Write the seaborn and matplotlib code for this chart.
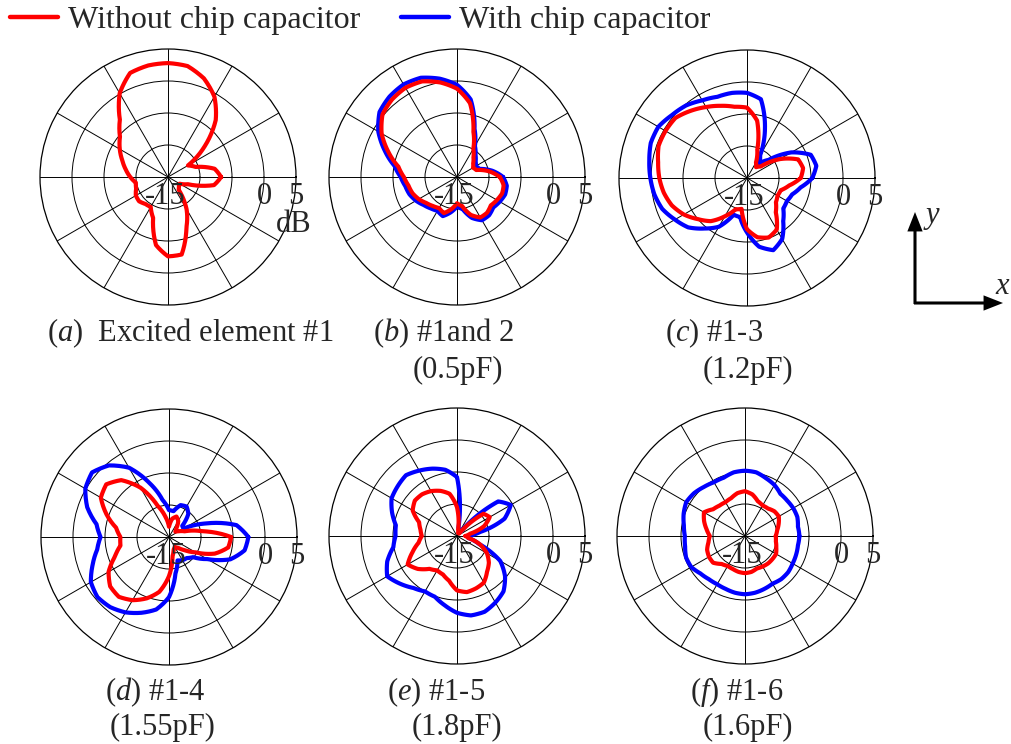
import numpy as np
import pandas as pd
import matplotlib
matplotlib.use("Agg")
import matplotlib.pyplot as plt
from matplotlib.lines import Line2D
from matplotlib.patches import FancyArrowPatch
import seaborn as sns

# ---------------- data (gain in dB, every 10 degrees from 0 to 350) ----------------
angles_deg = list(range(0, 360, 10))

a_without = [-6.7, -7.6, -10.4, -11.4, -7.5, -3.4, -0.5, 1.4, 2.6, 2.8,
             2.7, 2.3, 0.1, -3.3, -5.2, -6.3, -7.4, -8.3, -9.1, -9.9,
             -9.7, -9.2, -9.1, -9.5, -9.6, -8.2, -4.2, -2.6, -2.7, -6.6,
             -9.2, -12.4, -12.8, -12.9, -11.7, -7.7]

b_without = [-8.3, -9.9, -11.8, -12.1, -11.7, -11.0, -9.9, -7.5, -3.3, -1.2,
             0.0, 0.9, 1.1, 0.8, 0.2, -1.4, -3.6, -5.7, -6.7, -7.3,
             -7.6, -8.1, -8.7, -9.1, -9.4, -9.0, -9.9, -10.9, -10.4, -8.7,
             -7.7, -7.7, -8.1, -7.8, -7.5, -7.6]
b_with = [-7.8, -9.4, -11.3, -11.6, -11.2, -10.5, -9.4, -7.0, -2.7, -0.6,
          0.6, 1.5, 1.7, 1.4, 0.8, -0.8, -3.0, -5.1, -6.2, -6.8,
          -7.1, -7.6, -8.2, -8.6, -8.9, -8.5, -9.4, -10.4, -9.9, -8.2,
          -7.2, -7.2, -7.6, -7.3, -7.0, -7.1]

c_without = [-6.6, -6.1, -6.5, -9.1, -12.2, -12.8, -12.2, -10.3, -5.9, -4.0,
             -3.7, -3.0, -2.2, -1.3, -0.4, -0.3, -0.3, -0.9, -1.3, -1.8,
             -2.5, -3.6, -5.0, -6.2, -8.1, -9.8, -10.1, -7.0, -5.6, -5.1,
             -5.7, -8.0, -9.1, -9.5, -9.4, -8.3]
c_with = [-4.8, -4.0, -4.4, -7.0, -10.6, -12.0, -10.9, -6.8, -2.5, -1.7,
          -1.5, -1.5, -1.0, -0.2, 0.3, 1.0, 1.0, 0.5, 0.1, -0.3,
          -0.9, -2.0, -3.0, -4.7, -6.2, -8.9, -8.8, -6.5, -4.1, -3.0,
          -4.0, -6.2, -7.6, -7.8, -7.5, -6.5]

d_without = [-5.3, -9.8, -12.4, -13.2, -13.7, -13.2, -12.1, -11.6, -12.1, -13.4,
             -11.8, -9.8, -6.1, -3.4, -2.2, -2.7, -4.6, -6.6, -7.4, -7.3,
             -6.0, -4.1, -3.0, -2.8, -3.6, -4.8, -6.3, -8.9, -11.9, -12.9,
             -13.2, -12.8, -11.8, -10.2, -7.4, -5.6]
d_with = [-2.6, -4.3, -8.8, -12.4, -12.3, -10.3, -9.5, -9.7, -10.9, -10.8,
          -9.1, -6.0, -2.5, -0.4, 0.7, 0.1, -1.4, -3.5, -4.3, -3.6,
          -2.3, -0.9, -0.4, -0.7, -1.4, -2.4, -3.5, -5.6, -9.2, -11.1,
          -10.8, -10.7, -10.1, -8.1, -4.8, -3.0]

e_without = [-13.7, -12.9, -10.5, -9.1, -9.6, -14.5, -14.5, -14.5, -14.0, -10.5,
             -8.3, -7.5, -6.9, -6.5, -6.4, -7.0, -8.7, -9.2, -9.5, -8.9,
             -7.6, -6.1, -7.0, -8.3, -8.8, -8.6, -7.9, -6.5, -6.1, -6.3,
             -6.6, -7.7, -8.5, -9.6, -11.2, -13.2]
e_with = [-13.4, -11.3, -7.1, -5.3, -6.6, -14.1, -14.2, -14.0, -13.7, -5.8,
          -4.5, -3.8, -3.2, -2.6, -2.9, -3.2, -4.2, -5.3, -5.4, -4.9,
          -3.4, -2.4, -3.4, -4.4, -5.0, -4.9, -4.0, -3.0, -2.4, -2.4,
          -3.0, -3.7, -5.2, -7.2, -11.3, -13.2]

f_without = [-10.2, -9.9, -9.4, -8.9, -9.0, -9.4, -9.5, -9.2, -8.4, -8.0,
             -8.2, -8.7, -8.9, -8.8, -8.5, -7.6, -8.2, -8.9, -9.5, -9.2,
             -8.7, -8.5, -8.5, -9.3, -9.6, -9.5, -9.3, -9.2, -9.3, -9.6,
             -9.5, -9.4, -9.4, -9.4, -9.8, -10.1]
f_with = [-6.5, -6.6, -6.3, -6.3, -6.4, -6.4, -5.8, -5.4, -4.9, -4.8,
          -4.9, -5.3, -5.3, -5.0, -4.6, -4.4, -4.8, -5.3, -5.6, -5.5,
          -5.2, -5.3, -5.9, -6.2, -6.3, -6.2, -6.0, -5.9, -6.0, -6.2,
          -6.4, -6.2, -6.2, -6.4, -6.5, -6.6]

rgrid_values = [-10, -5, 0]
r_min, r_max = -15, 5
legend_labels = ["Without chip capacitor", "With chip capacitor"]
caption_letters = ["a", "b", "c", "d", "e", "f"]
caption_line1 = ["  Excited element #1", " #1and 2", " #1-3", " #1-4", " #1-5", " #1-6"]
caption_line2 = ["", "(0.5pF)", "(1.2pF)", "(1.55pF)", "(1.8pF)", "(1.6pF)"]

# ---------------- style ----------------
W, H = 1012, 744
sns.set_theme(style="white")
plt.rcParams['font.family'] = ['Liberation Serif', 'DejaVu Serif']
plt.rcParams['mathtext.fontset'] = 'custom'
plt.rcParams['mathtext.rm'] = 'Liberation Serif'
plt.rcParams['mathtext.it'] = 'Liberation Serif:italic'
FS = 22
RED = '#ff0000'
BLUE = '#0000ff'

fig = plt.figure(figsize=(W / 100, H / 100), dpi=100)
fig.patch.set_facecolor('white')

R = 128
panels = [
    (168, 177, a_without, None),
    (457, 177, b_without, b_with),
    (747, 178, c_without, c_with),
    (169, 537, d_without, d_with),
    (457, 536, e_without, e_with),
    (745, 536, f_without, f_with),
]


def closed(vals):
    th = np.deg2rad(np.array(angles_deg + [360], dtype=float))
    return pd.DataFrame({'theta': th, 'dB': list(vals) + [vals[0]]})


for i, (cx, cy, without, withc) in enumerate(panels):
    ax = fig.add_axes([(cx - R) / W, 1 - (cy + R) / H, 2 * R / W, 2 * R / H],
                      projection='polar')
    ax.set_facecolor('white')
    if withc is not None:
        sns.lineplot(data=closed(withc), x='theta', y='dB', sort=False,
                     estimator=None, color=BLUE, lw=3.0, ax=ax, legend=False)
    sns.lineplot(data=closed(without), x='theta', y='dB', sort=False,
                 estimator=None, color=RED, lw=3.0, ax=ax, legend=False)
    # draw each segment following the polar geometry (arc-like) instead of a chord
    for ln in ax.lines:
        ln.get_path()._interpolation_steps = 12
        ln.set_solid_joinstyle('round')
    ax.set_xlabel('')
    ax.set_ylabel('')
    ax.set_thetamin(0)
    ax.set_thetamax(360)
    ax.set_ylim(r_min, r_max)
    ax.set_thetagrids(range(0, 360, 30), labels=[])
    ax.set_rgrids(rgrid_values, labels=[])
    ax.grid(True, color='black', lw=0.7)
    ax.spines['polar'].set_color('black')
    ax.spines['polar'].set_linewidth(0.9)

    # radial scale labels
    ax.annotate('-15', xy=(0, r_min), xytext=(-2, -14), textcoords='offset points',
                ha='center', va='center', fontsize=FS)
    ax.annotate('0', xy=(0, 0), xytext=(0, -14), textcoords='offset points',
                ha='center', va='center', fontsize=FS)
    ax.annotate('5', xy=(0, 5), xytext=(0, -14), textcoords='offset points',
                ha='center', va='center', fontsize=FS)
    if i == 0:
        ax.annotate('dB', xy=(0, 5), xytext=(-2, -34), textcoords='offset points',
                    ha='center', va='center', fontsize=FS)

# ---------------- captions ----------------
cap_pos1 = [(47, 333), (373, 333), (665, 333), (105, 692), (387, 692), (690, 692)]
cap_pos2 = [None, (413, 370), (703, 370), (110, 727), (412, 727), (703, 727)]
for k in range(6):
    x, y = cap_pos1[k]
    fig.text(x / W, 1 - y / H, "($\\mathit{%s}$)%s" % (caption_letters[k], caption_line1[k]),
             ha='left', va='center', fontsize=FS)
    if caption_line2[k]:
        x2, y2 = cap_pos2[k]
        fig.text(x2 / W, 1 - y2 / H, caption_line2[k], ha='left', va='center', fontsize=FS)

# ---------------- legend ----------------
handles = [Line2D([], [], color=RED, lw=3.2), Line2D([], [], color=BLUE, lw=3.2)]
fig.legend(handles, legend_labels, loc='upper left', bbox_to_anchor=(10 / W, 1 - 6 / H),
           ncol=2, frameon=False, fontsize=23, handlelength=1.5, handletextpad=0.3,
           columnspacing=1.3, borderpad=0, borderaxespad=0)

# ---------------- coordinate arrows ----------------
def fp(x, y):
    return (x / W, 1 - y / H)

style = 'Simple,head_length=14,head_width=11,tail_width=2.2'
arr_y = FancyArrowPatch(fp(915, 304), fp(915, 212), arrowstyle=style, color='black',
                        transform=fig.transFigure, shrinkA=0, shrinkB=0, lw=0)
arr_x = FancyArrowPatch(fp(914, 303), fp(1003, 303), arrowstyle=style, color='black',
                        transform=fig.transFigure, shrinkA=0, shrinkB=0, lw=0)
fig.add_artist(arr_y)
fig.add_artist(arr_x)
fig.text(*fp(932, 215), 'y', style='italic', fontsize=FS, ha='center', va='center')
fig.text(*fp(1002, 287), 'x', style='italic', fontsize=FS, ha='center', va='center')

fig.savefig('out.png', dpi=100, facecolor='white')
